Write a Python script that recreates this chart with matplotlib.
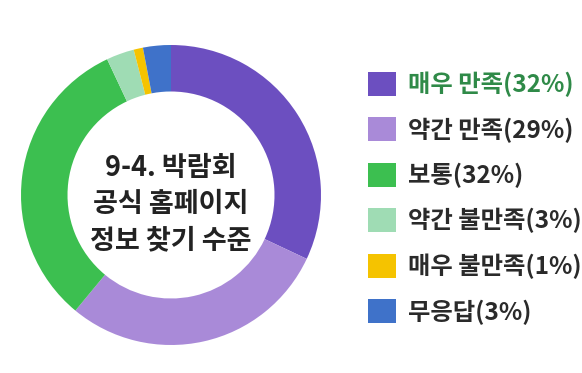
import matplotlib
matplotlib.use("Agg")
import matplotlib.pyplot as plt

plt.rcParams['font.family'] = ['Noto Sans CJK KR', 'DejaVu Sans']

categories = ['매우 만족', '약간 만족', '보통', '약간 불만족', '매우 불만족', '무응답']
values = [32, 29, 32, 3, 1, 3]
colors = ['#6c4fc0', '#a98ad8', '#3cbf50', '#9fdcb4', '#f5c300', '#3f72c9']
title_text = '9-4. 박람회\n공식 홈페이지\n정보 찾기 수준'

W, H = 582, 373
fig = plt.figure(figsize=(W / 100, H / 100), dpi=100)
fig.patch.set_facecolor('white')

cx, cy, r = 171, 195, 150
ax = fig.add_axes([(cx - r) / W, (H - cy - r) / H, 2 * r / W, 2 * r / H])
wedges, _ = ax.pie(values, colors=colors, startangle=90, counterclock=False,
                   wedgeprops=dict(width=0.31, edgecolor='none'), radius=1.0)
ax.set_xlim(-1, 1)
ax.set_ylim(-1, 1)
ax.set_aspect('equal')
ax.axis('off')

ax.text(0, -0.06, title_text, ha='center', va='center', fontsize=19.5,
        fontweight='bold', color='#222222', linespacing=1.38)

labels = [f'{c}({v}%)' for c, v in zip(categories, values)]
leg = fig.legend(wedges, labels, loc='upper left', bbox_to_anchor=(358 / W, 1 - 62 / H),
                 frameon=False, handlelength=1.15, handleheight=1.15,
                 labelspacing=0.83, handletextpad=0.5, borderaxespad=0,
                 prop={'weight': 'bold', 'size': 17.5})
for i, t in enumerate(leg.get_texts()):
    t.set_color('#2f8a48' if i == 0 else '#2a2a2a')

fig.savefig('out.png', dpi=100, facecolor='white')
